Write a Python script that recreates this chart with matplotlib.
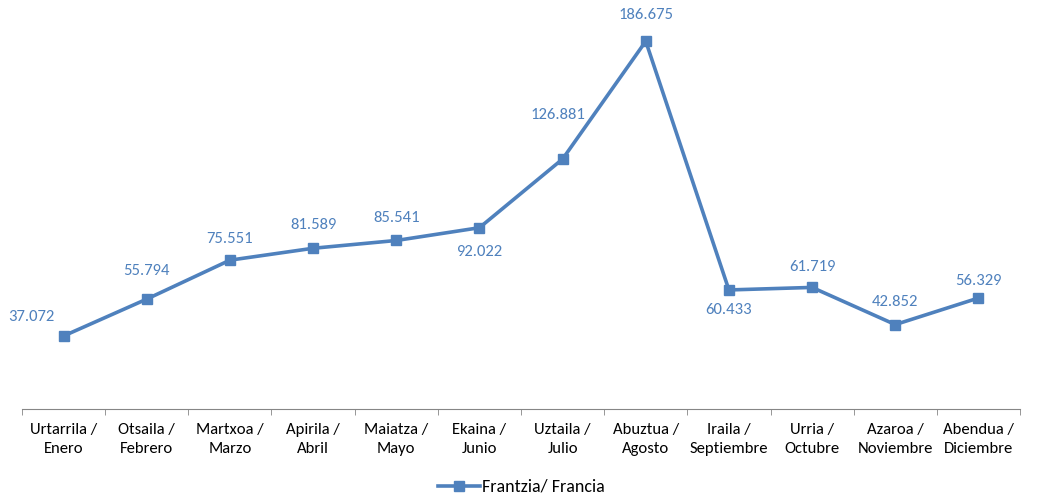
import matplotlib.pyplot as plt
import numpy as np

plt.rcParams['font.family'] = ['Carlito', 'Lato', 'DejaVu Sans']

# Datos
meses = ['Urtarrila /\nEnero', 'Otsaila /\nFebrero', 'Martxoa /\nMarzo', 'Apirila /\nAbril',
         'Maiatza /\nMayo', 'Ekaina /\nJunio', 'Uztaila /\nJulio', 'Abuztua /\nAgosto',
         'Iraila /\nSeptiembre', 'Urria /\nOctubre', 'Azaroa /\nNoviembre', 'Abendua /\nDiciembre']
valores = [37.072, 55.794, 75.551, 81.589, 85.541, 92.022, 126.881, 186.675,
           60.433, 61.719, 42.852, 56.329]
etiquetas = ['37.072', '55.794', '75.551', '81.589', '85.541', '92.022', '126.881', '186.675',
             '60.433', '61.719', '42.852', '56.329']

# desplazamiento de cada etiqueta (px) respecto al punto
desp = [(-32, 19), (0, 28), (0, 21), (0, 23), (0, 22), (0, -24),
        (-5, 44), (0, 26), (0, -20), (0, 20), (0, 23), (0, 17)]

color = '#4F81BD'
x = np.arange(len(meses))

fig = plt.figure(figsize=(10.43, 4.96), dpi=100)
ax = fig.add_axes([22/1043, 1-409/496, 998/1043, 394/496])

ax.plot(x, valores, '-s', color=color, linewidth=2.6, markersize=7,
        label='Frantzia/ Francia')

for i, (v, t) in enumerate(zip(valores, etiquetas)):
    dx, dy = desp[i]
    ax.annotate(t, (i, v), xytext=(dx * 0.72, dy * 0.72), textcoords='offset points',
                ha='center', va='center', color=color, fontsize=12)

ax.set_xlim(-0.5, len(meses) - 0.5)
ax.set_ylim(0, 200)
ax.set_yticks([])
ax.set_xticks(x)
ax.set_xticklabels(meses, fontsize=12, color='#000000', linespacing=1.45)
ax.set_xticks(np.arange(-0.5, len(meses)), minor=True)
ax.tick_params(axis='x', which='major', length=0, pad=10)
ax.tick_params(axis='x', which='minor', length=4, color='#868686', direction='out')

for s in ['top', 'right', 'left']:
    ax.spines[s].set_visible(False)
ax.spines['bottom'].set_color('#868686')

fig.legend(loc='center', bbox_to_anchor=(0.5, 1-487/496), frameon=False,
           fontsize=13, handlelength=2.3, handletextpad=0.1)

fig.savefig('out.png', dpi=100)
